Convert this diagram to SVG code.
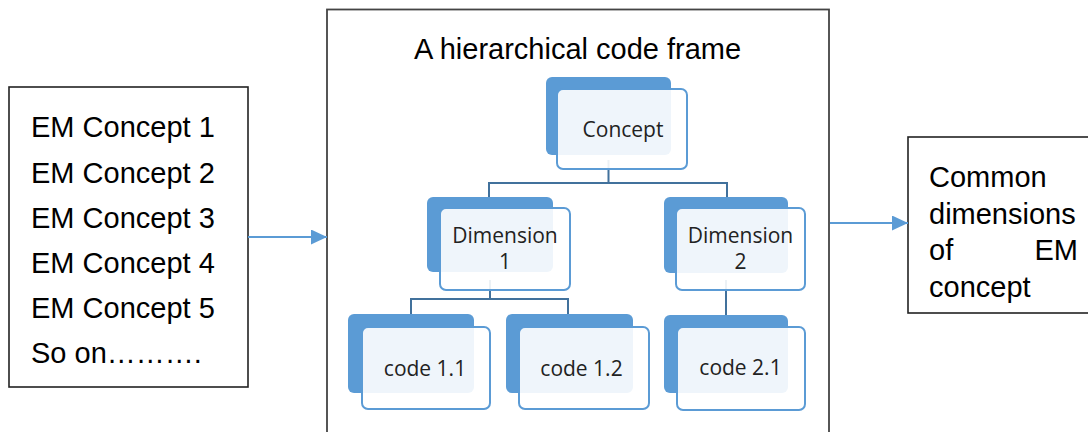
<svg xmlns="http://www.w3.org/2000/svg" width="1088" height="432" viewBox="0 0 1088 432">
<style>
.box{fill:#fff;stroke:#222;stroke-width:1.6}
.frame{fill:#fff;stroke:#444;stroke-width:1.8}
.t{font-family:"Liberation Sans",Arial,sans-serif;font-size:29px;fill:#000}
.back{fill:#5B9BD5}
.front{fill:#fff;fill-opacity:0.9;stroke:#5B9BD5;stroke-width:2}
.nt{font-family:"Open Sans","Noto Sans",sans-serif;font-size:21px;fill:#222;text-anchor:middle}
.con{fill:none;stroke:#41719C;stroke-width:2}
.arr{fill:none;stroke:#5B9BD5;stroke-width:2}
</style>
<defs>
<marker id="ah" viewBox="0 0 16 15" refX="16" refY="7.5" markerWidth="16" markerHeight="15" markerUnits="userSpaceOnUse" orient="auto">
<path d="M0,0 L16,7.5 L0,15 Z" fill="#5B9BD5"/>
</marker>
</defs>

<g id="frame">
<rect class="frame" x="327" y="9.5" width="502" height="440"/>
<text class="t" x="577.5" y="59" text-anchor="middle" font-size="30">A hierarchical code frame</text>
</g>

<g id="concept-list">
<rect class="box" x="9" y="87" width="239" height="300"/>
<text class="t" x="31" y="137">EM Concept 1</text>
<text class="t" x="31" y="182.5">EM Concept 2</text>
<text class="t" x="31" y="228">EM Concept 3</text>
<text class="t" x="31" y="273">EM Concept 4</text>
<text class="t" x="31" y="318">EM Concept 5</text>
<text class="t" x="31" y="363">So on……….</text>
</g>

<g id="common-dimensions">
<rect class="box" x="908" y="137" width="200" height="176"/>
<text class="t" x="929" y="187">Common</text>
<text class="t" x="929" y="223.5">dimensions</text>
<text class="t" x="929" y="260">of</text>
<text class="t" x="1078" y="260" text-anchor="end">EM</text>
<text class="t" x="929" y="296.5">concept</text>
</g>

<g id="connectors">
<path class="con" d="M608.5,160 V183 M489,197 V183 H727 V197"/>
<path class="con" d="M490,280 V299 M411,314 V299 H568 V314"/>
<path class="con" d="M726,280 V315"/>
<line class="arr" x1="248" y1="237" x2="327" y2="237" marker-end="url(#ah)"/>
<line class="arr" x1="830" y1="223" x2="908" y2="223" marker-end="url(#ah)"/>
</g>

<g id="node-concept">
<rect class="back" x="546" y="77" width="125" height="78" rx="6"/>
<rect class="front" x="557" y="89" width="130" height="80" rx="6"/>
<text class="nt" x="623" y="137">Concept</text>
</g>

<g id="node-dimension1">
<rect class="back" x="427" y="197" width="126" height="75" rx="6"/>
<rect class="front" x="440" y="208" width="130" height="82" rx="6"/>
<text class="nt" x="505" y="243">Dimension</text>
<text class="nt" x="505" y="268.5">1</text>
</g>

<g id="node-dimension2">
<rect class="back" x="664" y="197" width="124" height="76" rx="6"/>
<rect class="front" x="676" y="208" width="129" height="82" rx="6"/>
<text class="nt" x="740.5" y="243">Dimension</text>
<text class="nt" x="740.5" y="268.5">2</text>
</g>

<g id="node-code11">
<rect class="back" x="348" y="314" width="126" height="79" rx="6"/>
<rect class="front" x="362" y="327" width="128" height="82" rx="6"/>
<text class="nt" x="425" y="376">code 1.1</text>
</g>

<g id="node-code12">
<rect class="back" x="506" y="314" width="127" height="79" rx="6"/>
<rect class="front" x="519" y="327" width="130" height="82" rx="6"/>
<text class="nt" x="581.5" y="376">code 1.2</text>
</g>

<g id="node-code21">
<rect class="back" x="664" y="315" width="124" height="78" rx="6"/>
<rect class="front" x="677" y="327" width="128" height="83" rx="6"/>
<text class="nt" x="740.5" y="375">code 2.1</text>
</g>
</svg>
